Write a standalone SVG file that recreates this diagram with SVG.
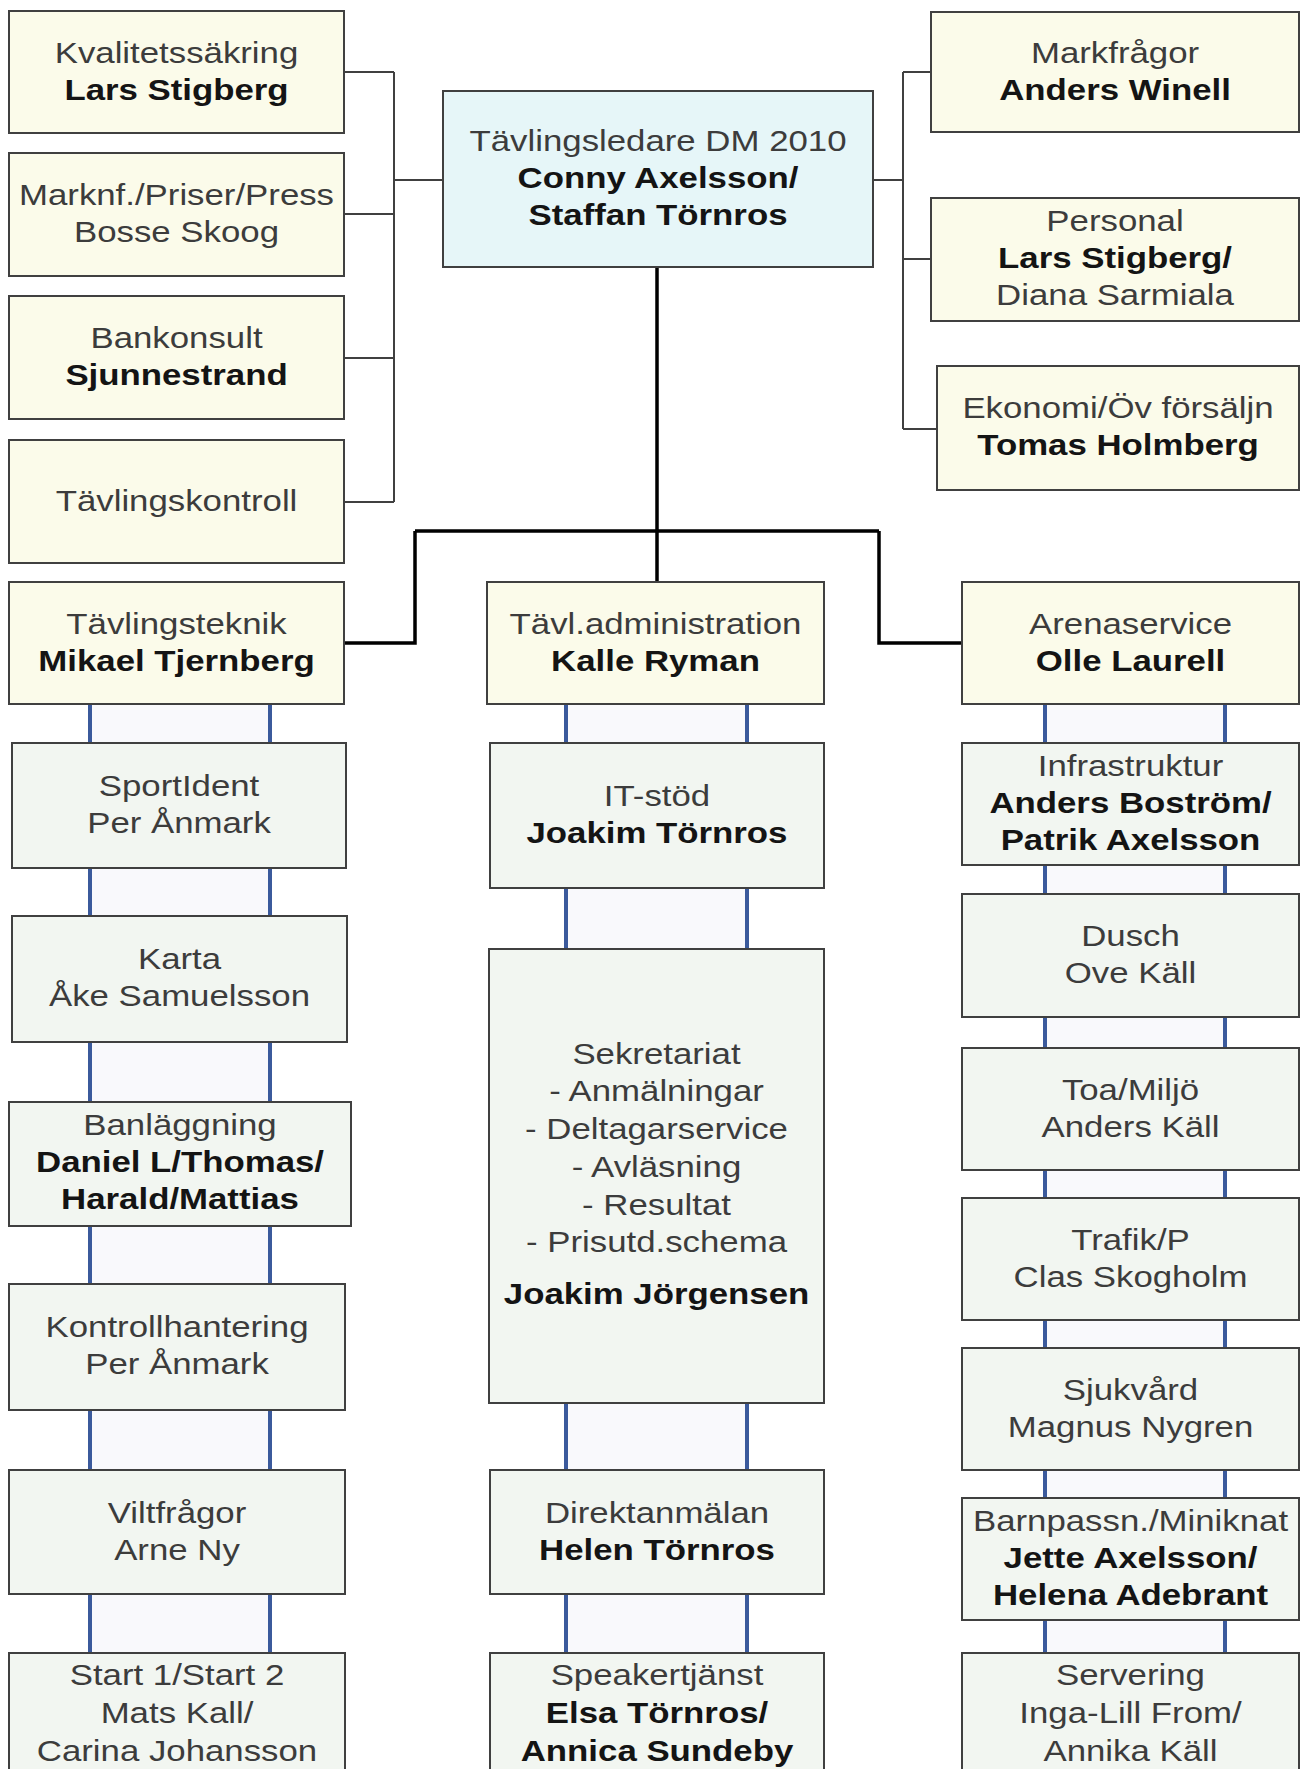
<svg xmlns="http://www.w3.org/2000/svg" width="1302" height="1769" viewBox="0 0 1302 1769">
<style>
.cream{fill:#fbfbea;stroke:#404040;stroke-width:2}
.sub{fill:#f2f6f1;stroke:#404040;stroke-width:2}
.head{fill:#e6f6f8;stroke:#404040;stroke-width:2}
.t{font-family:"Liberation Sans",Arial,sans-serif;font-size:29px;fill:#3c3c3c;text-anchor:middle}
.b{font-weight:bold;fill:#141414}
.thin{fill:none;stroke:#404040;stroke-width:2}
.thick{fill:none;stroke:#000;stroke-width:3.5}
.blue{fill:none;stroke:#3b5a9c;stroke-width:4}
.pale{fill:#f9f9fc}
</style>
<rect width="1302" height="1769" fill="#fff"/>
<g id="connectors">
<rect class="pale" x="92" y="704" width="176" height="1065"/>
<rect class="pale" x="568" y="704" width="177" height="1065"/>
<rect class="pale" x="1047" y="704" width="176" height="1065"/>
<path class="blue" d="M90 704V1769M270 704V1769M566 704V1769M747 704V1769M1045 704V1769M1225 704V1769"/>
<path class="thin" d="M344 72H394M344 214H394M344 358H394M344 502H394M394 72V502M394 180H443"/>
<path class="thin" d="M873 180H903M903 72V429M903 72H931M903 259H931M903 429H937"/>
<path class="thick" d="M657 267V531M415 531H879M415 531V643H344M879 531V643H962M657 531V582"/>
</g>
<g id="n-kval"><rect class="cream" x="9" y="11" width="335" height="122"/><g transform="translate(176.5 0) scale(1.2 1)"><text class="t" y="63">Kvalitetssäkring</text><text class="t b" y="100">Lars Stigberg</text></g></g>
<g id="n-marknf"><rect class="cream" x="9" y="153" width="335" height="123"/><g transform="translate(176.5 0) scale(1.2 1)"><text class="t" y="205">Marknf./Priser/Press</text><text class="t" y="242">Bosse Skoog</text></g></g>
<g id="n-bankonsult"><rect class="cream" x="9" y="296" width="335" height="123"/><g transform="translate(176.5 0) scale(1.2 1)"><text class="t" y="348">Bankonsult</text><text class="t b" y="385">Sjunnestrand</text></g></g>
<g id="n-tavlingskontroll"><rect class="cream" x="9" y="440" width="335" height="123"/><g transform="translate(176.5 0) scale(1.2 1)"><text class="t" y="511">Tävlingskontroll</text></g></g>
<g id="n-tavlingsledare"><rect class="head" x="443" y="91" width="430" height="176"/><g transform="translate(658 0) scale(1.2 1)"><text class="t" y="151">Tävlingsledare DM 2010</text><text class="t b" y="188">Conny Axelsson/</text><text class="t b" y="225">Staffan Törnros</text></g></g>
<g id="n-markfragor"><rect class="cream" x="931" y="12" width="368" height="120"/><g transform="translate(1115 0) scale(1.2 1)"><text class="t" y="63">Markfrågor</text><text class="t b" y="100">Anders Winell</text></g></g>
<g id="n-personal"><rect class="cream" x="931" y="198" width="368" height="123"/><g transform="translate(1115 0) scale(1.2 1)"><text class="t" y="231">Personal</text><text class="t b" y="268">Lars Stigberg/</text><text class="t" y="305">Diana Sarmiala</text></g></g>
<g id="n-ekonomi"><rect class="cream" x="937" y="366" width="362" height="124"/><g transform="translate(1118 0) scale(1.2 1)"><text class="t" y="418">Ekonomi/Öv försäljn</text><text class="t b" y="455">Tomas Holmberg</text></g></g>
<g id="n-tavlingsteknik"><rect class="cream" x="9" y="582" width="335" height="122"/><g transform="translate(176.5 0) scale(1.2 1)"><text class="t" y="634">Tävlingsteknik</text><text class="t b" y="671">Mikael Tjernberg</text></g></g>
<g id="n-tavladmin"><rect class="cream" x="487" y="582" width="337" height="122"/><g transform="translate(655.5 0) scale(1.2 1)"><text class="t" y="634">Tävl.administration</text><text class="t b" y="671">Kalle Ryman</text></g></g>
<g id="n-arenaservice"><rect class="cream" x="962" y="582" width="337" height="122"/><g transform="translate(1130.5 0) scale(1.2 1)"><text class="t" y="634">Arenaservice</text><text class="t b" y="671">Olle Laurell</text></g></g>
<g id="n-sportident"><rect class="sub" x="12" y="743" width="334" height="125"/><g transform="translate(179 0) scale(1.2 1)"><text class="t" y="796">SportIdent</text><text class="t" y="833">Per Ånmark</text></g></g>
<g id="n-karta"><rect class="sub" x="12" y="916" width="335" height="126"/><g transform="translate(179.5 0) scale(1.2 1)"><text class="t" y="969">Karta</text><text class="t" y="1006">Åke Samuelsson</text></g></g>
<g id="n-banlaggning"><rect class="sub" x="9" y="1102" width="342" height="124"/><g transform="translate(180 0) scale(1.2 1)"><text class="t" y="1135">Banläggning</text><text class="t b" y="1172">Daniel L/Thomas/</text><text class="t b" y="1209">Harald/Mattias</text></g></g>
<g id="n-kontrollhantering"><rect class="sub" x="9" y="1284" width="336" height="126"/><g transform="translate(177 0) scale(1.2 1)"><text class="t" y="1337">Kontrollhantering</text><text class="t" y="1374">Per Ånmark</text></g></g>
<g id="n-viltfragor"><rect class="sub" x="9" y="1470" width="336" height="124"/><g transform="translate(177 0) scale(1.2 1)"><text class="t" y="1523">Viltfrågor</text><text class="t" y="1560">Arne Ny</text></g></g>
<g id="n-start"><rect class="sub" x="9" y="1653" width="336" height="130"/><g transform="translate(177 0) scale(1.2 1)"><text class="t" y="1685">Start 1/Start 2</text><text class="t" y="1723">Mats Kall/</text><text class="t" y="1761">Carina Johansson</text></g></g>
<g id="n-itstod"><rect class="sub" x="490" y="743" width="334" height="145"/><g transform="translate(657 0) scale(1.2 1)"><text class="t" y="806">IT-stöd</text><text class="t b" y="843">Joakim Törnros</text></g></g>
<g id="n-sekretariat"><rect class="sub" x="489" y="949" width="335" height="454"/><g transform="translate(656.5 0) scale(1.2 1)"><text class="t" y="1064">Sekretariat</text><text class="t" y="1101">- Anmälningar</text><text class="t" y="1139">- Deltagarservice</text><text class="t" y="1177">- Avläsning</text><text class="t" y="1215">- Resultat</text><text class="t" y="1252">- Prisutd.schema</text><text class="t b" y="1304">Joakim Jörgensen</text></g></g>
<g id="n-direktanmalan"><rect class="sub" x="490" y="1470" width="334" height="124"/><g transform="translate(657 0) scale(1.2 1)"><text class="t" y="1523">Direktanmälan</text><text class="t b" y="1560">Helen Törnros</text></g></g>
<g id="n-speaker"><rect class="sub" x="490" y="1653" width="334" height="130"/><g transform="translate(657 0) scale(1.2 1)"><text class="t" y="1685">Speakertjänst</text><text class="t b" y="1723">Elsa Törnros/</text><text class="t b" y="1761">Annica Sundeby</text></g></g>
<g id="n-infrastruktur"><rect class="sub" x="962" y="743" width="337" height="122"/><g transform="translate(1130.5 0) scale(1.2 1)"><text class="t" y="776">Infrastruktur</text><text class="t b" y="813">Anders Boström/</text><text class="t b" y="850">Patrik Axelsson</text></g></g>
<g id="n-dusch"><rect class="sub" x="962" y="894" width="337" height="123"/><g transform="translate(1130.5 0) scale(1.2 1)"><text class="t" y="946">Dusch</text><text class="t" y="983">Ove Käll</text></g></g>
<g id="n-toa"><rect class="sub" x="962" y="1048" width="337" height="122"/><g transform="translate(1130.5 0) scale(1.2 1)"><text class="t" y="1100">Toa/Miljö</text><text class="t" y="1137">Anders Käll</text></g></g>
<g id="n-trafik"><rect class="sub" x="962" y="1198" width="337" height="122"/><g transform="translate(1130.5 0) scale(1.2 1)"><text class="t" y="1250">Trafik/P</text><text class="t" y="1287">Clas Skogholm</text></g></g>
<g id="n-sjukvard"><rect class="sub" x="962" y="1348" width="337" height="122"/><g transform="translate(1130.5 0) scale(1.2 1)"><text class="t" y="1400">Sjukvård</text><text class="t" y="1437">Magnus Nygren</text></g></g>
<g id="n-barnpassn"><rect class="sub" x="962" y="1498" width="337" height="122"/><g transform="translate(1130.5 0) scale(1.2 1)"><text class="t" y="1531">Barnpassn./Miniknat</text><text class="t b" y="1568">Jette Axelsson/</text><text class="t b" y="1605">Helena Adebrant</text></g></g>
<g id="n-servering"><rect class="sub" x="962" y="1653" width="337" height="130"/><g transform="translate(1130.5 0) scale(1.2 1)"><text class="t" y="1685">Servering</text><text class="t" y="1723">Inga-Lill From/</text><text class="t" y="1761">Annika Käll</text></g></g>
</svg>
